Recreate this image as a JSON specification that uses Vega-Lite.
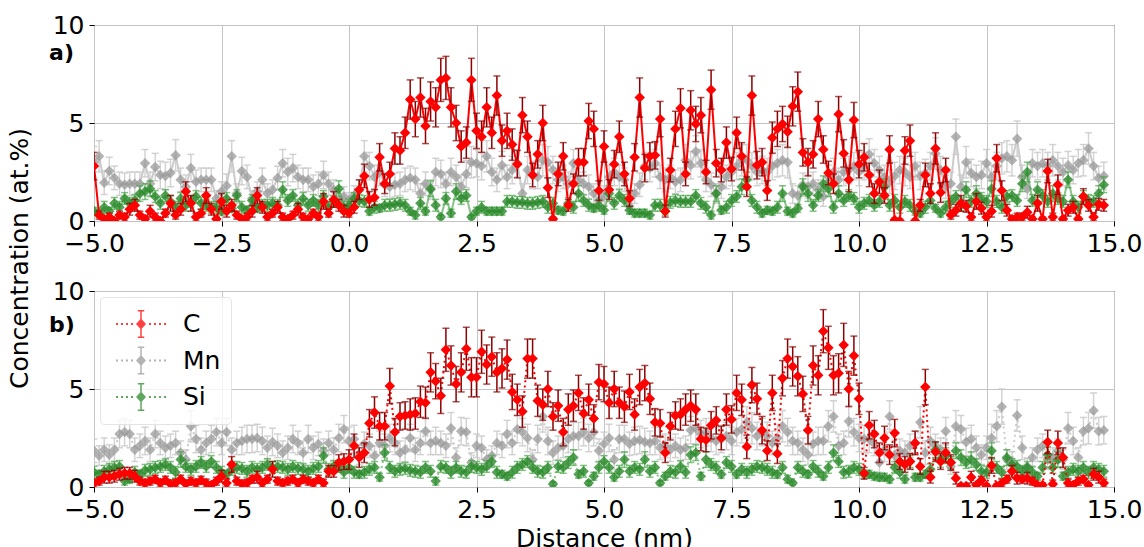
{
"$schema":"https://vega.github.io/schema/vega-lite/v6.json",
"padding":{"left":6,"top":12,"right":2,"bottom":0},
"background":"white",
"config":{
 "font":"DejaVu Sans",
 "view":{"stroke":"#000000","strokeWidth":1},
 "axis":{"labelFont":"DejaVu Sans","labelFontSize":25,"labelColor":"#000000","titleFont":"DejaVu Sans","titleFontSize":25,"titleFontWeight":"normal","titleColor":"#000000","tickColor":"#000000","tickSize":5,"tickWidth":1,"domain":false,"grid":true,"gridColor":"#c4c4c4","gridWidth":1,"labelPadding":5,"titlePadding":4,"labelFlush":false,"labelOverlap":false},
 "legend":{"orient":"top-left","offset":6,"labelFont":"DejaVu Sans","labelFontSize":25,"labelColor":"#000000","symbolType":"M-0.76,-0.04h0.08v0.08h-0.08zM-0.56,-0.04h0.08v0.08h-0.08zM-0.36,-0.04h0.08v0.08h-0.08zM-0.16,-0.04h0.08v0.08h-0.08zM0.56,-0.04h0.08v0.08h-0.08zM0.76,-0.04h0.08v0.08h-0.08zM0.96,-0.04h0.08v0.08h-0.08zM1.16,-0.04h0.08v0.08h-0.08zM0.24,-0.22L0.44,0L0.24,0.22L0.04,0zM0.21,-0.54h0.06v1.08h-0.06zM0.11,-0.56h0.26v0.06h-0.26zM0.11,0.5h0.26v0.06h-0.26z","symbolSize":2500,"symbolStrokeWidth":0,"clipHeight":34,"rowPadding":2.5,"padding":10,"labelOffset":23,"fillColor":"rgba(255,255,255,0.8)","strokeColor":"#e4e4e4","cornerRadius":4,"zindex":1}
},
"data":{"values":[
{"x":-5.0,"c1":2.8,"ec1":0.7,"m1":3.0,"em1":0.8,"s1":0.5,"es1":0.2,"c2":0.2,"ec2":0.2,"m2":1.85,"em2":0.6,"s2":0.75,"es2":0.3},
{"x":-4.9,"c1":0.3,"ec1":0.2,"m1":3.3,"em1":0.8,"s1":0.4,"es1":0.2,"c2":0.3,"ec2":0.2,"m2":1.6,"em2":0.5,"s2":0.65,"es2":0.2},
{"x":-4.8,"c1":0.1,"ec1":0.1,"m1":1.95,"em1":0.6,"s1":0.7,"es1":0.3,"c2":0.5,"ec2":0.3,"m2":1.9,"em2":0.6,"s2":0.8,"es2":0.3},
{"x":-4.7,"c1":0.2,"ec1":0.2,"m1":2.55,"em1":0.7,"s1":0.5,"es1":0.2,"c2":0.5,"ec2":0.3,"m2":1.65,"em2":0.5,"s2":0.9,"es2":0.3},
{"x":-4.6,"c1":0.0,"ec1":0.1,"m1":2.2,"em1":0.6,"s1":0.9,"es1":0.3,"c2":0.55,"ec2":0.3,"m2":1.9,"em2":0.6,"s2":1.0,"es2":0.3},
{"x":-4.5,"c1":0.3,"ec1":0.2,"m1":1.9,"em1":0.6,"s1":0.7,"es1":0.3,"c2":0.65,"ec2":0.3,"m2":2.7,"em2":0.7,"s2":1.05,"es2":0.3},
{"x":-4.4,"c1":0.2,"ec1":0.2,"m1":1.85,"em1":0.6,"s1":1.15,"es1":0.3,"c2":0.7,"ec2":0.3,"m2":2.8,"em2":0.7,"s2":0.3,"es2":0.2},
{"x":-4.3,"c1":0.6,"ec1":0.3,"m1":1.9,"em1":0.6,"s1":0.9,"es1":0.3,"c2":0.7,"ec2":0.3,"m2":2.7,"em2":0.7,"s2":0.4,"es2":0.2},
{"x":-4.2,"c1":0.8,"ec1":0.3,"m1":1.9,"em1":0.6,"s1":1.05,"es1":0.3,"c2":0.55,"ec2":0.3,"m2":1.9,"em2":0.6,"s2":0.75,"es2":0.3},
{"x":-4.1,"c1":0.3,"ec1":0.2,"m1":1.9,"em1":0.6,"s1":1.4,"es1":0.4,"c2":0.3,"ec2":0.2,"m2":2.1,"em2":0.6,"s2":0.65,"es2":0.2},
{"x":-4.0,"c1":0.1,"ec1":0.1,"m1":2.95,"em1":0.7,"s1":1.5,"es1":0.4,"c2":0.2,"ec2":0.2,"m2":2.35,"em2":0.7,"s2":0.85,"es2":0.3},
{"x":-3.9,"c1":0.5,"ec1":0.3,"m1":1.9,"em1":0.6,"s1":1.65,"es1":0.4,"c2":0.3,"ec2":0.2,"m2":1.9,"em2":0.6,"s2":0.9,"es2":0.3},
{"x":-3.8,"c1":0.2,"ec1":0.2,"m1":2.75,"em1":0.7,"s1":1.25,"es1":0.3,"c2":0.4,"ec2":0.2,"m2":2.7,"em2":0.7,"s2":1.0,"es2":0.3},
{"x":-3.7,"c1":0.0,"ec1":0.1,"m1":2.35,"em1":0.7,"s1":0.9,"es1":0.3,"c2":0.2,"ec2":0.2,"m2":2.25,"em2":0.6,"s2":1.05,"es2":0.3},
{"x":-3.6,"c1":0.4,"ec1":0.2,"m1":2.3,"em1":0.7,"s1":1.3,"es1":0.3,"c2":0.35,"ec2":0.2,"m2":2.0,"em2":0.6,"s2":1.15,"es2":0.3},
{"x":-3.5,"c1":0.9,"ec1":0.4,"m1":2.45,"em1":0.7,"s1":1.0,"es1":0.3,"c2":0.15,"ec2":0.2,"m2":2.1,"em2":0.6,"s2":1.0,"es2":0.3},
{"x":-3.4,"c1":0.3,"ec1":0.2,"m1":3.35,"em1":0.8,"s1":0.7,"es1":0.3,"c2":0.2,"ec2":0.2,"m2":2.25,"em2":0.6,"s2":0.75,"es2":0.3},
{"x":-3.3,"c1":0.6,"ec1":0.3,"m1":2.1,"em1":0.6,"s1":1.15,"es1":0.3,"c2":0.4,"ec2":0.2,"m2":1.75,"em2":0.6,"s2":1.4,"es2":0.4},
{"x":-3.2,"c1":1.5,"ec1":0.5,"m1":1.75,"em1":0.6,"s1":0.8,"es1":0.3,"c2":0.15,"ec2":0.2,"m2":1.4,"em2":0.5,"s2":1.05,"es2":0.3},
{"x":-3.1,"c1":0.9,"ec1":0.4,"m1":2.7,"em1":0.7,"s1":1.0,"es1":0.3,"c2":0.3,"ec2":0.2,"m2":3.1,"em2":0.8,"s2":0.9,"es2":0.3},
{"x":-3.0,"c1":0.2,"ec1":0.2,"m1":2.0,"em1":0.6,"s1":1.25,"es1":0.3,"c2":0.2,"ec2":0.2,"m2":2.45,"em2":0.7,"s2":1.05,"es2":0.3},
{"x":-2.9,"c1":0.4,"ec1":0.2,"m1":2.1,"em1":0.6,"s1":0.9,"es1":0.3,"c2":0.35,"ec2":0.2,"m2":1.9,"em2":0.6,"s2":1.25,"es2":0.3},
{"x":-2.8,"c1":1.3,"ec1":0.4,"m1":2.1,"em1":0.6,"s1":0.8,"es1":0.3,"c2":0.2,"ec2":0.2,"m2":2.25,"em2":0.6,"s2":1.05,"es2":0.3},
{"x":-2.7,"c1":0.6,"ec1":0.3,"m1":2.1,"em1":0.6,"s1":0.7,"es1":0.3,"c2":0.1,"ec2":0.1,"m2":2.45,"em2":0.7,"s2":1.3,"es2":0.3},
{"x":-2.6,"c1":0.1,"ec1":0.1,"m1":1.15,"em1":0.4,"s1":0.7,"es1":0.3,"c2":0.3,"ec2":0.2,"m2":2.8,"em2":0.7,"s2":1.0,"es2":0.3},
{"x":-2.5,"c1":1.0,"ec1":0.4,"m1":1.5,"em1":0.5,"s1":0.5,"es1":0.2,"c2":0.55,"ec2":0.3,"m2":2.25,"em2":0.6,"s2":0.75,"es2":0.3},
{"x":-2.4,"c1":0.5,"ec1":0.3,"m1":1.8,"em1":0.6,"s1":1.15,"es1":0.3,"c2":0.2,"ec2":0.2,"m2":2.8,"em2":0.7,"s2":0.65,"es2":0.2},
{"x":-2.3,"c1":0.8,"ec1":0.3,"m1":3.3,"em1":0.8,"s1":0.65,"es1":0.2,"c2":1.15,"ec2":0.4,"m2":1.9,"em2":0.6,"s2":0.9,"es2":0.3},
{"x":-2.2,"c1":0.3,"ec1":0.2,"m1":1.4,"em1":0.5,"s1":1.3,"es1":0.3,"c2":0.3,"ec2":0.2,"m2":2.25,"em2":0.6,"s2":1.0,"es2":0.3},
{"x":-2.1,"c1":0.1,"ec1":0.1,"m1":2.55,"em1":0.7,"s1":0.7,"es1":0.3,"c2":0.15,"ec2":0.2,"m2":2.35,"em2":0.7,"s2":0.95,"es2":0.3},
{"x":-2.0,"c1":0.2,"ec1":0.2,"m1":2.25,"em1":0.6,"s1":0.55,"es1":0.2,"c2":0.2,"ec2":0.2,"m2":2.45,"em2":0.7,"s2":0.8,"es2":0.3},
{"x":-1.9,"c1":0.5,"ec1":0.3,"m1":1.15,"em1":0.4,"s1":1.05,"es1":0.3,"c2":0.4,"ec2":0.2,"m2":2.45,"em2":0.7,"s2":1.0,"es2":0.3},
{"x":-1.8,"c1":1.3,"ec1":0.4,"m1":1.5,"em1":0.5,"s1":0.65,"es1":0.2,"c2":0.5,"ec2":0.3,"m2":2.5,"em2":0.7,"s2":0.9,"es2":0.3},
{"x":-1.7,"c1":0.7,"ec1":0.3,"m1":2.1,"em1":0.6,"s1":0.8,"es1":0.3,"c2":0.2,"ec2":0.2,"m2":2.35,"em2":0.7,"s2":1.0,"es2":0.3},
{"x":-1.6,"c1":0.2,"ec1":0.2,"m1":1.4,"em1":0.5,"s1":0.8,"es1":0.3,"c2":0.4,"ec2":0.2,"m2":2.0,"em2":0.6,"s2":1.15,"es2":0.3},
{"x":-1.5,"c1":0.4,"ec1":0.2,"m1":1.6,"em1":0.5,"s1":0.9,"es1":0.3,"c2":0.9,"ec2":0.4,"m2":2.3,"em2":0.7,"s2":1.0,"es2":0.3},
{"x":-1.4,"c1":0.7,"ec1":0.3,"m1":2.2,"em1":0.6,"s1":0.8,"es1":0.3,"c2":0.3,"ec2":0.2,"m2":2.1,"em2":0.6,"s2":1.05,"es2":0.3},
{"x":-1.3,"c1":0.2,"ec1":0.2,"m1":2.95,"em1":0.7,"s1":1.6,"es1":0.4,"c2":0.2,"ec2":0.2,"m2":1.75,"em2":0.6,"s2":1.0,"es2":0.3},
{"x":-1.2,"c1":0.1,"ec1":0.1,"m1":2.5,"em1":0.7,"s1":1.05,"es1":0.3,"c2":0.3,"ec2":0.2,"m2":2.0,"em2":0.6,"s2":0.9,"es2":0.3},
{"x":-1.1,"c1":0.3,"ec1":0.2,"m1":2.7,"em1":0.7,"s1":1.3,"es1":0.3,"c2":0.4,"ec2":0.2,"m2":2.45,"em2":0.7,"s2":1.05,"es2":0.3},
{"x":-1.0,"c1":0.6,"ec1":0.3,"m1":2.25,"em1":0.6,"s1":0.8,"es1":0.3,"c2":0.2,"ec2":0.2,"m2":2.25,"em2":0.6,"s2":0.95,"es2":0.3},
{"x":-0.9,"c1":0.2,"ec1":0.2,"m1":2.1,"em1":0.6,"s1":1.15,"es1":0.3,"c2":0.4,"ec2":0.2,"m2":1.75,"em2":0.6,"s2":0.9,"es2":0.3},
{"x":-0.8,"c1":0.1,"ec1":0.1,"m1":2.1,"em1":0.6,"s1":0.8,"es1":0.3,"c2":0.3,"ec2":0.2,"m2":2.45,"em2":0.7,"s2":0.8,"es2":0.3},
{"x":-0.7,"c1":0.4,"ec1":0.2,"m1":1.75,"em1":0.6,"s1":1.05,"es1":0.3,"c2":0.2,"ec2":0.2,"m2":2.0,"em2":0.6,"s2":0.95,"es2":0.3},
{"x":-0.6,"c1":0.2,"ec1":0.2,"m1":1.9,"em1":0.6,"s1":0.8,"es1":0.3,"c2":0.4,"ec2":0.2,"m2":2.2,"em2":0.6,"s2":1.05,"es2":0.3},
{"x":-0.5,"c1":1.0,"ec1":0.4,"m1":2.35,"em1":0.7,"s1":1.25,"es1":0.3,"c2":0.2,"ec2":0.2,"m2":1.85,"em2":0.6,"s2":1.6,"es2":0.4},
{"x":-0.4,"c1":0.4,"ec1":0.2,"m1":1.9,"em1":0.6,"s1":0.7,"es1":0.3,"c2":0.8,"ec2":0.3,"m2":2.25,"em2":0.6,"s2":0.9,"es2":0.3},
{"x":-0.3,"c1":1.1,"ec1":0.4,"m1":1.6,"em1":0.5,"s1":1.0,"es1":0.3,"c2":0.8,"ec2":0.3,"m2":1.9,"em2":0.6,"s2":1.05,"es2":0.3},
{"x":-0.2,"c1":0.8,"ec1":0.3,"m1":1.0,"em1":0.4,"s1":1.65,"es1":0.4,"c2":1.25,"ec2":0.4,"m2":2.5,"em2":0.7,"s2":1.05,"es2":0.3},
{"x":-0.1,"c1":0.5,"ec1":0.3,"m1":1.25,"em1":0.5,"s1":0.7,"es1":0.3,"c2":1.3,"ec2":0.4,"m2":2.95,"em2":0.7,"s2":0.75,"es2":0.3},
{"x":0.0,"c1":0.4,"ec1":0.2,"m1":1.05,"em1":0.4,"s1":0.8,"es1":0.3,"c2":1.4,"ec2":0.5,"m2":2.35,"em2":0.7,"s2":1.0,"es2":0.3},
{"x":0.1,"c1":0.7,"ec1":0.3,"m1":1.3,"em1":0.5,"s1":1.15,"es1":0.3,"c2":2.1,"ec2":0.6,"m2":2.45,"em2":0.7,"s2":0.75,"es2":0.3},
{"x":0.2,"c1":1.6,"ec1":0.5,"m1":1.6,"em1":0.5,"s1":1.05,"es1":0.3,"c2":1.5,"ec2":0.5,"m2":1.65,"em2":0.5,"s2":0.65,"es2":0.2},
{"x":0.3,"c1":2.3,"ec1":0.6,"m1":3.3,"em1":0.8,"s1":1.0,"es1":0.3,"c2":1.75,"ec2":0.5,"m2":2.2,"em2":0.6,"s2":0.75,"es2":0.3},
{"x":0.4,"c1":1.1,"ec1":0.4,"m1":2.8,"em1":0.7,"s1":0.5,"es1":0.2,"c2":3.25,"ec2":0.7,"m2":2.1,"em2":0.6,"s2":0.9,"es2":0.3},
{"x":0.5,"c1":1.2,"ec1":0.4,"m1":2.25,"em1":0.6,"s1":0.7,"es1":0.3,"c2":3.8,"ec2":0.8,"m2":1.6,"em2":0.5,"s2":1.0,"es2":0.3},
{"x":0.6,"c1":3.25,"ec1":0.7,"m1":2.5,"em1":0.7,"s1":0.65,"es1":0.2,"c2":3.1,"ec2":0.7,"m2":2.25,"em2":0.6,"s2":0.5,"es2":0.2},
{"x":0.7,"c1":1.9,"ec1":0.5,"m1":1.85,"em1":0.6,"s1":0.8,"es1":0.3,"c2":3.1,"ec2":0.7,"m2":2.1,"em2":0.6,"s2":1.75,"es2":0.4},
{"x":0.8,"c1":2.4,"ec1":0.6,"m1":1.75,"em1":0.6,"s1":0.8,"es1":0.3,"c2":5.15,"ec2":0.9,"m2":2.5,"em2":0.7,"s2":1.0,"es2":0.3},
{"x":0.9,"c1":3.7,"ec1":0.8,"m1":1.85,"em1":0.6,"s1":0.85,"es1":0.3,"c2":2.8,"ec2":0.7,"m2":2.25,"em2":0.6,"s2":0.8,"es2":0.3},
{"x":1.0,"c1":3.6,"ec1":0.7,"m1":1.9,"em1":0.6,"s1":0.9,"es1":0.3,"c2":3.6,"ec2":0.7,"m2":1.75,"em2":0.6,"s2":0.9,"es2":0.3},
{"x":1.1,"c1":4.5,"ec1":0.8,"m1":2.1,"em1":0.6,"s1":0.8,"es1":0.3,"c2":3.65,"ec2":0.7,"m2":1.9,"em2":0.6,"s2":0.95,"es2":0.3},
{"x":1.2,"c1":6.2,"ec1":1.0,"m1":2.2,"em1":0.6,"s1":0.5,"es1":0.2,"c2":3.7,"ec2":0.8,"m2":2.5,"em2":0.7,"s2":0.85,"es2":0.3},
{"x":1.3,"c1":5.2,"ec1":0.9,"m1":2.1,"em1":0.6,"s1":0.3,"es1":0.2,"c2":3.75,"ec2":0.8,"m2":1.9,"em2":0.6,"s2":0.8,"es2":0.3},
{"x":1.4,"c1":6.3,"ec1":1.0,"m1":1.4,"em1":0.5,"s1":0.9,"es1":0.3,"c2":4.35,"ec2":0.8,"m2":2.25,"em2":0.6,"s2":0.75,"es2":0.3},
{"x":1.5,"c1":4.85,"ec1":0.9,"m1":1.9,"em1":0.6,"s1":0.5,"es1":0.2,"c2":4.3,"ec2":0.8,"m2":2.85,"em2":0.7,"s2":1.0,"es2":0.3},
{"x":1.6,"c1":6.1,"ec1":1.0,"m1":1.6,"em1":0.5,"s1":1.65,"es1":0.4,"c2":5.85,"ec2":1.0,"m2":2.25,"em2":0.6,"s2":0.8,"es2":0.3},
{"x":1.7,"c1":5.8,"ec1":1.0,"m1":2.5,"em1":0.7,"s1":0.8,"es1":0.3,"c2":5.4,"ec2":0.9,"m2":2.35,"em2":0.7,"s2":0.3,"es2":0.2},
{"x":1.8,"c1":7.2,"ec1":1.1,"m1":2.4,"em1":0.7,"s1":0.2,"es1":0.1,"c2":4.65,"ec2":0.9,"m2":2.25,"em2":0.6,"s2":1.05,"es2":0.3},
{"x":1.9,"c1":7.3,"ec1":1.1,"m1":1.9,"em1":0.6,"s1":1.15,"es1":0.3,"c2":7.0,"ec2":1.1,"m2":2.1,"em2":0.6,"s2":1.0,"es2":0.3},
{"x":2.0,"c1":5.8,"ec1":1.0,"m1":2.5,"em1":0.7,"s1":0.4,"es1":0.2,"c2":6.2,"ec2":1.0,"m2":3.0,"em2":0.8,"s2":0.75,"es2":0.3},
{"x":2.1,"c1":5.0,"ec1":0.9,"m1":2.25,"em1":0.6,"s1":1.5,"es1":0.4,"c2":5.25,"ec2":0.9,"m2":1.5,"em2":0.5,"s2":1.0,"es2":0.3},
{"x":2.2,"c1":3.8,"ec1":0.8,"m1":1.75,"em1":0.6,"s1":1.15,"es1":0.3,"c2":5.85,"ec2":1.0,"m2":2.85,"em2":0.7,"s2":0.8,"es2":0.3},
{"x":2.3,"c1":4.0,"ec1":0.8,"m1":2.4,"em1":0.7,"s1":1.3,"es1":0.3,"c2":7.05,"ec2":1.1,"m2":2.8,"em2":0.7,"s2":0.75,"es2":0.3},
{"x":2.4,"c1":7.2,"ec1":1.1,"m1":3.0,"em1":0.8,"s1":0.2,"es1":0.1,"c2":5.6,"ec2":1.0,"m2":1.25,"em2":0.5,"s2":1.05,"es2":0.3},
{"x":2.5,"c1":4.6,"ec1":0.9,"m1":2.95,"em1":0.7,"s1":0.5,"es1":0.2,"c2":5.6,"ec2":1.0,"m2":2.1,"em2":0.6,"s2":1.0,"es2":0.3},
{"x":2.6,"c1":4.3,"ec1":0.8,"m1":2.8,"em1":0.7,"s1":0.7,"es1":0.3,"c2":6.9,"ec2":1.1,"m2":2.0,"em2":0.6,"s2":0.9,"es2":0.3},
{"x":2.7,"c1":5.8,"ec1":1.0,"m1":3.3,"em1":0.8,"s1":0.5,"es1":0.2,"c2":6.25,"ec2":1.0,"m2":1.4,"em2":0.5,"s2":1.05,"es2":0.3},
{"x":2.8,"c1":4.5,"ec1":0.8,"m1":2.5,"em1":0.7,"s1":0.5,"es1":0.2,"c2":6.65,"ec2":1.0,"m2":1.6,"em2":0.5,"s2":1.3,"es2":0.3},
{"x":2.9,"c1":6.4,"ec1":1.0,"m1":2.1,"em1":0.6,"s1":0.5,"es1":0.2,"c2":5.85,"ec2":1.0,"m2":2.25,"em2":0.6,"s2":0.75,"es2":0.3},
{"x":3.0,"c1":4.1,"ec1":0.8,"m1":2.85,"em1":0.7,"s1":0.5,"es1":0.2,"c2":6.05,"ec2":1.0,"m2":2.1,"em2":0.6,"s2":0.65,"es2":0.2},
{"x":3.1,"c1":4.6,"ec1":0.9,"m1":2.25,"em1":0.6,"s1":1.0,"es1":0.3,"c2":6.5,"ec2":1.0,"m2":2.7,"em2":0.7,"s2":0.55,"es2":0.2},
{"x":3.2,"c1":3.9,"ec1":0.8,"m1":2.6,"em1":0.7,"s1":1.0,"es1":0.3,"c2":4.85,"ec2":0.9,"m2":2.25,"em2":0.6,"s2":0.75,"es2":0.3},
{"x":3.3,"c1":2.9,"ec1":0.7,"m1":2.95,"em1":0.7,"s1":0.95,"es1":0.3,"c2":4.45,"ec2":0.8,"m2":2.95,"em2":0.7,"s2":1.0,"es2":0.3},
{"x":3.4,"c1":5.4,"ec1":0.9,"m1":1.4,"em1":0.5,"s1":0.95,"es1":0.3,"c2":3.85,"ec2":0.8,"m2":2.8,"em2":0.7,"s2":1.15,"es2":0.3},
{"x":3.5,"c1":4.3,"ec1":0.8,"m1":2.6,"em1":0.7,"s1":0.9,"es1":0.3,"c2":6.55,"ec2":1.0,"m2":2.5,"em2":0.7,"s2":1.3,"es2":0.3},
{"x":3.6,"c1":2.35,"ec1":0.6,"m1":2.35,"em1":0.7,"s1":0.9,"es1":0.3,"c2":6.55,"ec2":1.0,"m2":1.4,"em2":0.5,"s2":1.0,"es2":0.3},
{"x":3.7,"c1":3.4,"ec1":0.7,"m1":2.25,"em1":0.6,"s1":0.95,"es1":0.3,"c2":4.4,"ec2":0.8,"m2":2.45,"em2":0.7,"s2":0.8,"es2":0.3},
{"x":3.8,"c1":5.0,"ec1":0.9,"m1":3.1,"em1":0.8,"s1":1.0,"es1":0.3,"c2":4.2,"ec2":0.8,"m2":3.6,"em2":0.8,"s2":0.75,"es2":0.3},
{"x":3.9,"c1":1.7,"ec1":0.5,"m1":3.0,"em1":0.8,"s1":0.7,"es1":0.3,"c2":5.0,"ec2":0.9,"m2":2.35,"em2":0.7,"s2":1.0,"es2":0.3},
{"x":4.0,"c1":0.1,"ec1":0.1,"m1":2.6,"em1":0.7,"s1":0.9,"es1":0.3,"c2":3.6,"ec2":0.7,"m2":1.75,"em2":0.6,"s2":0.15,"es2":0.1},
{"x":4.1,"c1":2.4,"ec1":0.6,"m1":2.1,"em1":0.6,"s1":0.55,"es1":0.2,"c2":4.15,"ec2":0.8,"m2":2.0,"em2":0.6,"s2":1.05,"es2":0.3},
{"x":4.2,"c1":3.3,"ec1":0.7,"m1":2.25,"em1":0.6,"s1":0.5,"es1":0.2,"c2":2.8,"ec2":0.7,"m2":2.1,"em2":0.6,"s2":1.0,"es2":0.3},
{"x":4.3,"c1":0.8,"ec1":0.3,"m1":1.9,"em1":0.6,"s1":0.9,"es1":0.3,"c2":3.95,"ec2":0.8,"m2":2.45,"em2":0.7,"s2":1.25,"es2":0.3},
{"x":4.4,"c1":1.9,"ec1":0.5,"m1":2.95,"em1":0.7,"s1":0.7,"es1":0.3,"c2":4.15,"ec2":0.8,"m2":2.6,"em2":0.7,"s2":1.5,"es2":0.4},
{"x":4.5,"c1":3.0,"ec1":0.7,"m1":2.1,"em1":0.6,"s1":1.4,"es1":0.4,"c2":4.8,"ec2":0.9,"m2":2.6,"em2":0.7,"s2":0.65,"es2":0.2},
{"x":4.6,"c1":3.0,"ec1":0.7,"m1":1.9,"em1":0.6,"s1":1.05,"es1":0.3,"c2":3.75,"ec2":0.8,"m2":2.8,"em2":0.7,"s2":0.8,"es2":0.3},
{"x":4.7,"c1":5.1,"ec1":0.9,"m1":1.75,"em1":0.6,"s1":0.8,"es1":0.3,"c2":4.45,"ec2":0.8,"m2":2.5,"em2":0.7,"s2":0.2,"es2":0.1},
{"x":4.8,"c1":4.7,"ec1":0.9,"m1":1.4,"em1":0.5,"s1":0.65,"es1":0.2,"c2":3.5,"ec2":0.7,"m2":2.8,"em2":0.7,"s2":0.55,"es2":0.2},
{"x":4.9,"c1":1.55,"ec1":0.5,"m1":1.05,"em1":0.4,"s1":0.8,"es1":0.3,"c2":5.35,"ec2":0.9,"m2":1.85,"em2":0.6,"s2":1.0,"es2":0.3},
{"x":5.0,"c1":3.8,"ec1":0.8,"m1":1.3,"em1":0.5,"s1":0.55,"es1":0.2,"c2":5.25,"ec2":0.9,"m2":2.2,"em2":0.6,"s2":1.3,"es2":0.3},
{"x":5.1,"c1":1.6,"ec1":0.5,"m1":2.25,"em1":0.6,"s1":1.4,"es1":0.4,"c2":4.3,"ec2":0.8,"m2":2.5,"em2":0.7,"s2":1.0,"es2":0.3},
{"x":5.2,"c1":2.9,"ec1":0.7,"m1":2.5,"em1":0.7,"s1":0.9,"es1":0.3,"c2":5.0,"ec2":0.9,"m2":1.4,"em2":0.5,"s2":0.5,"es2":0.2},
{"x":5.3,"c1":4.3,"ec1":0.8,"m1":2.25,"em1":0.6,"s1":1.3,"es1":0.3,"c2":4.3,"ec2":0.8,"m2":2.45,"em2":0.7,"s2":0.8,"es2":0.3},
{"x":5.4,"c1":2.4,"ec1":0.6,"m1":2.1,"em1":0.6,"s1":1.05,"es1":0.3,"c2":4.1,"ec2":0.8,"m2":2.45,"em2":0.7,"s2":1.4,"es2":0.4},
{"x":5.5,"c1":1.15,"ec1":0.4,"m1":0.75,"em1":0.4,"s1":0.55,"es1":0.2,"c2":4.85,"ec2":0.9,"m2":2.2,"em2":0.6,"s2":0.8,"es2":0.3},
{"x":5.6,"c1":3.25,"ec1":0.7,"m1":1.4,"em1":0.5,"s1":0.4,"es1":0.2,"c2":3.7,"ec2":0.8,"m2":2.35,"em2":0.7,"s2":1.0,"es2":0.3},
{"x":5.7,"c1":6.3,"ec1":1.0,"m1":1.85,"em1":0.6,"s1":0.4,"es1":0.2,"c2":5.1,"ec2":0.9,"m2":2.4,"em2":0.7,"s2":0.9,"es2":0.3},
{"x":5.8,"c1":2.7,"ec1":0.7,"m1":2.8,"em1":0.7,"s1":0.4,"es1":0.2,"c2":5.3,"ec2":0.9,"m2":2.3,"em2":0.7,"s2":1.4,"es2":0.4},
{"x":5.9,"c1":3.3,"ec1":0.7,"m1":2.7,"em1":0.7,"s1":0.3,"es1":0.2,"c2":4.5,"ec2":0.8,"m2":2.25,"em2":0.6,"s2":0.8,"es2":0.3},
{"x":6.0,"c1":3.35,"ec1":0.7,"m1":2.95,"em1":0.7,"s1":0.8,"es1":0.3,"c2":3.3,"ec2":0.7,"m2":2.35,"em2":0.7,"s2":1.0,"es2":0.3},
{"x":6.1,"c1":5.2,"ec1":0.9,"m1":2.25,"em1":0.6,"s1":0.8,"es1":0.3,"c2":3.25,"ec2":0.7,"m2":2.0,"em2":0.6,"s2":0.2,"es2":0.1},
{"x":6.2,"c1":0.5,"ec1":0.3,"m1":2.1,"em1":0.6,"s1":0.5,"es1":0.2,"c2":1.75,"ec2":0.5,"m2":2.1,"em2":0.6,"s2":0.55,"es2":0.2},
{"x":6.3,"c1":2.6,"ec1":0.6,"m1":2.25,"em1":0.6,"s1":0.95,"es1":0.3,"c2":3.1,"ec2":0.7,"m2":1.9,"em2":0.6,"s2":0.8,"es2":0.3},
{"x":6.4,"c1":4.7,"ec1":0.9,"m1":2.0,"em1":0.6,"s1":1.05,"es1":0.3,"c2":3.65,"ec2":0.7,"m2":2.1,"em2":0.6,"s2":0.75,"es2":0.3},
{"x":6.5,"c1":5.75,"ec1":1.0,"m1":2.1,"em1":0.6,"s1":1.0,"es1":0.3,"c2":3.7,"ec2":0.8,"m2":1.9,"em2":0.6,"s2":1.05,"es2":0.3},
{"x":6.6,"c1":2.4,"ec1":0.6,"m1":3.1,"em1":0.8,"s1":1.0,"es1":0.3,"c2":3.95,"ec2":0.8,"m2":2.0,"em2":0.6,"s2":0.75,"es2":0.3},
{"x":6.7,"c1":5.65,"ec1":1.0,"m1":2.85,"em1":0.7,"s1":1.0,"es1":0.3,"c2":4.15,"ec2":0.8,"m2":2.9,"em2":0.7,"s2":1.65,"es2":0.4},
{"x":6.8,"c1":4.95,"ec1":0.9,"m1":3.55,"em1":0.8,"s1":1.3,"es1":0.3,"c2":3.95,"ec2":0.8,"m2":3.0,"em2":0.8,"s2":1.75,"es2":0.4},
{"x":6.9,"c1":5.4,"ec1":0.9,"m1":2.95,"em1":0.7,"s1":0.9,"es1":0.3,"c2":2.45,"ec2":0.6,"m2":2.7,"em2":0.7,"s2":0.55,"es2":0.2},
{"x":7.0,"c1":2.5,"ec1":0.6,"m1":2.1,"em1":0.6,"s1":0.7,"es1":0.3,"c2":2.4,"ec2":0.6,"m2":2.8,"em2":0.7,"s2":1.4,"es2":0.4},
{"x":7.1,"c1":6.7,"ec1":1.0,"m1":1.85,"em1":0.6,"s1":0.3,"es1":0.2,"c2":3.15,"ec2":0.7,"m2":2.5,"em2":0.7,"s2":1.15,"es2":0.3},
{"x":7.2,"c1":2.95,"ec1":0.7,"m1":1.4,"em1":0.5,"s1":1.4,"es1":0.4,"c2":3.4,"ec2":0.7,"m2":2.35,"em2":0.7,"s2":1.0,"es2":0.3},
{"x":7.3,"c1":2.6,"ec1":0.6,"m1":1.75,"em1":0.6,"s1":0.55,"es1":0.2,"c2":2.5,"ec2":0.6,"m2":2.45,"em2":0.7,"s2":0.65,"es2":0.2},
{"x":7.4,"c1":4.0,"ec1":0.8,"m1":2.25,"em1":0.6,"s1":0.7,"es1":0.3,"c2":3.95,"ec2":0.8,"m2":2.6,"em2":0.7,"s2":1.25,"es2":0.3},
{"x":7.5,"c1":2.65,"ec1":0.6,"m1":2.5,"em1":0.7,"s1":1.05,"es1":0.3,"c2":3.45,"ec2":0.7,"m2":2.35,"em2":0.7,"s2":1.05,"es2":0.3},
{"x":7.6,"c1":4.5,"ec1":0.8,"m1":2.8,"em1":0.7,"s1":1.25,"es1":0.3,"c2":4.8,"ec2":0.9,"m2":2.8,"em2":0.7,"s2":0.65,"es2":0.2},
{"x":7.7,"c1":3.3,"ec1":0.7,"m1":3.1,"em1":0.8,"s1":1.75,"es1":0.4,"c2":4.45,"ec2":0.8,"m2":2.95,"em2":0.7,"s2":0.9,"es2":0.3},
{"x":7.8,"c1":1.75,"ec1":0.5,"m1":3.1,"em1":0.8,"s1":2.1,"es1":0.4,"c2":2.05,"ec2":0.6,"m2":3.3,"em2":0.8,"s2":0.75,"es2":0.3},
{"x":7.9,"c1":6.4,"ec1":1.0,"m1":2.8,"em1":0.7,"s1":1.05,"es1":0.3,"c2":5.2,"ec2":0.9,"m2":3.0,"em2":0.8,"s2":0.9,"es2":0.3},
{"x":8.0,"c1":2.85,"ec1":0.7,"m1":2.5,"em1":0.7,"s1":0.7,"es1":0.3,"c2":4.5,"ec2":0.8,"m2":2.6,"em2":0.7,"s2":1.05,"es2":0.3},
{"x":8.1,"c1":3.0,"ec1":0.7,"m1":2.6,"em1":0.7,"s1":0.4,"es1":0.2,"c2":2.9,"ec2":0.7,"m2":2.8,"em2":0.7,"s2":1.0,"es2":0.3},
{"x":8.2,"c1":1.55,"ec1":0.5,"m1":2.5,"em1":0.7,"s1":0.55,"es1":0.2,"c2":1.85,"ec2":0.5,"m2":2.6,"em2":0.7,"s2":0.9,"es2":0.3},
{"x":8.3,"c1":4.25,"ec1":0.8,"m1":2.8,"em1":0.7,"s1":0.5,"es1":0.2,"c2":4.8,"ec2":0.9,"m2":2.25,"em2":0.6,"s2":0.75,"es2":0.3},
{"x":8.4,"c1":4.7,"ec1":0.9,"m1":2.95,"em1":0.7,"s1":0.7,"es1":0.3,"c2":1.7,"ec2":0.5,"m2":2.5,"em2":0.7,"s2":0.65,"es2":0.2},
{"x":8.5,"c1":4.95,"ec1":0.9,"m1":3.1,"em1":0.8,"s1":1.4,"es1":0.4,"c2":5.55,"ec2":0.9,"m2":3.1,"em2":0.8,"s2":1.0,"es2":0.3},
{"x":8.6,"c1":4.55,"ec1":0.8,"m1":3.0,"em1":0.8,"s1":0.5,"es1":0.2,"c2":6.55,"ec2":1.0,"m2":2.8,"em2":0.7,"s2":0.4,"es2":0.2},
{"x":8.7,"c1":5.85,"ec1":1.0,"m1":1.4,"em1":0.5,"s1":0.4,"es1":0.2,"c2":6.15,"ec2":1.0,"m2":2.35,"em2":0.7,"s2":0.2,"es2":0.1},
{"x":8.8,"c1":6.6,"ec1":1.0,"m1":1.3,"em1":0.5,"s1":0.65,"es1":0.2,"c2":5.65,"ec2":1.0,"m2":2.25,"em2":0.6,"s2":1.0,"es2":0.3},
{"x":8.9,"c1":3.5,"ec1":0.7,"m1":1.85,"em1":0.6,"s1":1.75,"es1":0.4,"c2":4.75,"ec2":0.9,"m2":1.9,"em2":0.6,"s2":0.8,"es2":0.3},
{"x":9.0,"c1":3.0,"ec1":0.7,"m1":1.75,"em1":0.6,"s1":1.4,"es1":0.4,"c2":2.9,"ec2":0.7,"m2":1.65,"em2":0.5,"s2":0.65,"es2":0.2},
{"x":9.1,"c1":3.4,"ec1":0.7,"m1":1.9,"em1":0.6,"s1":0.8,"es1":0.3,"c2":6.2,"ec2":1.0,"m2":2.2,"em2":0.6,"s2":1.05,"es2":0.3},
{"x":9.2,"c1":5.2,"ec1":0.9,"m1":1.6,"em1":0.5,"s1":1.3,"es1":0.3,"c2":5.7,"ec2":1.0,"m2":2.35,"em2":0.7,"s2":0.8,"es2":0.3},
{"x":9.3,"c1":3.65,"ec1":0.7,"m1":1.25,"em1":0.5,"s1":1.9,"es1":0.4,"c2":7.95,"ec2":1.1,"m2":2.35,"em2":0.7,"s2":0.55,"es2":0.2},
{"x":9.4,"c1":2.45,"ec1":0.6,"m1":2.25,"em1":0.6,"s1":1.65,"es1":0.4,"c2":7.1,"ec2":1.1,"m2":3.1,"em2":0.8,"s2":1.0,"es2":0.3},
{"x":9.5,"c1":1.9,"ec1":0.5,"m1":2.5,"em1":0.7,"s1":0.7,"es1":0.3,"c2":5.7,"ec2":1.0,"m2":3.6,"em2":0.8,"s2":1.75,"es2":0.4},
{"x":9.6,"c1":5.45,"ec1":0.9,"m1":2.1,"em1":0.6,"s1":1.4,"es1":0.4,"c2":5.8,"ec2":1.0,"m2":2.1,"em2":0.6,"s2":1.3,"es2":0.3},
{"x":9.7,"c1":3.45,"ec1":0.7,"m1":2.5,"em1":0.7,"s1":1.05,"es1":0.3,"c2":7.25,"ec2":1.1,"m2":2.25,"em2":0.6,"s2":0.75,"es2":0.3},
{"x":9.8,"c1":2.1,"ec1":0.6,"m1":2.6,"em1":0.7,"s1":1.3,"es1":0.3,"c2":5.0,"ec2":0.9,"m2":3.35,"em2":0.8,"s2":0.8,"es2":0.3},
{"x":9.9,"c1":5.15,"ec1":0.9,"m1":2.8,"em1":0.7,"s1":1.15,"es1":0.3,"c2":6.7,"ec2":1.0,"m2":2.8,"em2":0.7,"s2":1.0,"es2":0.3},
{"x":10.0,"c1":2.9,"ec1":0.7,"m1":2.5,"em1":0.7,"s1":0.7,"es1":0.3,"c2":4.5,"ec2":0.8,"m2":2.5,"em2":0.7,"s2":0.9,"es2":0.3},
{"x":10.1,"c1":3.25,"ec1":0.7,"m1":2.8,"em1":0.7,"s1":0.9,"es1":0.3,"c2":0.7,"ec2":0.3,"m2":2.45,"em2":0.7,"s2":0.65,"es2":0.2},
{"x":10.2,"c1":2.35,"ec1":0.6,"m1":3.4,"em1":0.8,"s1":1.05,"es1":0.3,"c2":3.15,"ec2":0.7,"m2":2.45,"em2":0.7,"s2":0.65,"es2":0.2},
{"x":10.3,"c1":1.4,"ec1":0.5,"m1":2.95,"em1":0.7,"s1":0.8,"es1":0.3,"c2":2.7,"ec2":0.7,"m2":2.2,"em2":0.6,"s2":0.55,"es2":0.2},
{"x":10.4,"c1":2.0,"ec1":0.6,"m1":2.6,"em1":0.7,"s1":1.0,"es1":0.3,"c2":1.75,"ec2":0.5,"m2":1.25,"em2":0.5,"s2":0.5,"es2":0.2},
{"x":10.5,"c1":1.3,"ec1":0.4,"m1":2.25,"em1":0.6,"s1":1.75,"es1":0.4,"c2":2.5,"ec2":0.6,"m2":1.9,"em2":0.6,"s2":0.5,"es2":0.2},
{"x":10.6,"c1":3.65,"ec1":0.7,"m1":2.0,"em1":0.6,"s1":0.8,"es1":0.3,"c2":1.65,"ec2":0.5,"m2":3.6,"em2":0.8,"s2":0.4,"es2":0.2},
{"x":10.7,"c1":0.05,"ec1":0.1,"m1":2.3,"em1":0.7,"s1":1.05,"es1":0.3,"c2":2.75,"ec2":0.7,"m2":1.6,"em2":0.5,"s2":1.0,"es2":0.3},
{"x":10.8,"c1":0.0,"ec1":0.1,"m1":2.6,"em1":0.7,"s1":0.7,"es1":0.3,"c2":1.3,"ec2":0.4,"m2":1.85,"em2":0.6,"s2":0.75,"es2":0.3},
{"x":10.9,"c1":3.6,"ec1":0.7,"m1":2.5,"em1":0.7,"s1":1.0,"es1":0.3,"c2":1.15,"ec2":0.4,"m2":1.75,"em2":0.6,"s2":0.4,"es2":0.2},
{"x":11.0,"c1":4.1,"ec1":0.8,"m1":2.25,"em1":0.6,"s1":0.8,"es1":0.3,"c2":1.3,"ec2":0.4,"m2":2.1,"em2":0.6,"s2":1.3,"es2":0.3},
{"x":11.1,"c1":0.0,"ec1":0.1,"m1":2.8,"em1":0.7,"s1":0.5,"es1":0.2,"c2":2.25,"ec2":0.6,"m2":2.25,"em2":0.6,"s2":0.5,"es2":0.2},
{"x":11.2,"c1":0.8,"ec1":0.3,"m1":2.3,"em1":0.7,"s1":0.4,"es1":0.2,"c2":1.05,"ec2":0.4,"m2":3.3,"em2":0.8,"s2":0.5,"es2":0.2},
{"x":11.3,"c1":2.35,"ec1":0.6,"m1":2.45,"em1":0.7,"s1":0.7,"es1":0.3,"c2":5.1,"ec2":0.9,"m2":1.75,"em2":0.6,"s2":0.65,"es2":0.2},
{"x":11.4,"c1":1.4,"ec1":0.5,"m1":2.8,"em1":0.7,"s1":1.05,"es1":0.3,"c2":0.5,"ec2":0.3,"m2":2.35,"em2":0.7,"s2":0.9,"es2":0.3},
{"x":11.5,"c1":3.7,"ec1":0.8,"m1":3.45,"em1":0.8,"s1":0.65,"es1":0.2,"c2":1.8,"ec2":0.5,"m2":2.1,"em2":0.6,"s2":1.9,"es2":0.4},
{"x":11.6,"c1":1.45,"ec1":0.5,"m1":2.6,"em1":0.7,"s1":0.4,"es1":0.2,"c2":1.3,"ec2":0.4,"m2":1.9,"em2":0.6,"s2":1.4,"es2":0.4},
{"x":11.7,"c1":2.6,"ec1":0.6,"m1":1.75,"em1":0.6,"s1":0.7,"es1":0.3,"c2":1.75,"ec2":0.5,"m2":2.85,"em2":0.7,"s2":1.6,"es2":0.4},
{"x":11.8,"c1":0.3,"ec1":0.2,"m1":1.9,"em1":0.6,"s1":1.0,"es1":0.3,"c2":1.25,"ec2":0.4,"m2":1.05,"em2":0.4,"s2":1.25,"es2":0.3},
{"x":11.9,"c1":0.55,"ec1":0.3,"m1":4.3,"em1":0.9,"s1":1.25,"es1":0.3,"c2":0.45,"ec2":0.3,"m2":3.1,"em2":0.8,"s2":1.85,"es2":0.4},
{"x":12.0,"c1":0.9,"ec1":0.4,"m1":1.75,"em1":0.6,"s1":0.8,"es1":0.3,"c2":0.05,"ec2":0.1,"m2":2.95,"em2":0.7,"s2":1.5,"es2":0.4},
{"x":12.1,"c1":0.75,"ec1":0.3,"m1":3.0,"em1":0.8,"s1":1.6,"es1":0.4,"c2":0.05,"ec2":0.1,"m2":2.3,"em2":0.7,"s2":1.25,"es2":0.3},
{"x":12.2,"c1":0.2,"ec1":0.2,"m1":2.45,"em1":0.7,"s1":1.0,"es1":0.3,"c2":0.5,"ec2":0.3,"m2":2.45,"em2":0.7,"s2":1.4,"es2":0.4},
{"x":12.3,"c1":1.0,"ec1":0.4,"m1":2.25,"em1":0.6,"s1":1.4,"es1":0.4,"c2":0.1,"ec2":0.1,"m2":2.0,"em2":0.6,"s2":1.15,"es2":0.3},
{"x":12.4,"c1":0.65,"ec1":0.3,"m1":2.35,"em1":0.7,"s1":1.15,"es1":0.3,"c2":0.35,"ec2":0.2,"m2":1.65,"em2":0.5,"s2":0.8,"es2":0.3},
{"x":12.5,"c1":0.2,"ec1":0.2,"m1":2.95,"em1":0.7,"s1":1.0,"es1":0.3,"c2":0.05,"ec2":0.1,"m2":2.0,"em2":0.6,"s2":0.75,"es2":0.3},
{"x":12.6,"c1":0.5,"ec1":0.3,"m1":2.25,"em1":0.6,"s1":1.65,"es1":0.4,"c2":1.1,"ec2":0.4,"m2":2.5,"em2":0.7,"s2":1.85,"es2":0.4},
{"x":12.7,"c1":3.2,"ec1":0.7,"m1":2.8,"em1":0.7,"s1":1.0,"es1":0.3,"c2":0.05,"ec2":0.1,"m2":3.1,"em2":0.8,"s2":1.0,"es2":0.3},
{"x":12.8,"c1":1.55,"ec1":0.5,"m1":3.2,"em1":0.8,"s1":0.7,"es1":0.3,"c2":0.2,"ec2":0.2,"m2":4.1,"em2":0.9,"s2":0.75,"es2":0.3},
{"x":12.9,"c1":0.55,"ec1":0.3,"m1":3.3,"em1":0.8,"s1":1.25,"es1":0.3,"c2":0.4,"ec2":0.2,"m2":1.4,"em2":0.5,"s2":1.5,"es2":0.4},
{"x":13.0,"c1":0.1,"ec1":0.1,"m1":3.1,"em1":0.8,"s1":1.3,"es1":0.3,"c2":0.8,"ec2":0.3,"m2":1.3,"em2":0.5,"s2":1.15,"es2":0.3},
{"x":13.1,"c1":0.2,"ec1":0.2,"m1":4.2,"em1":0.9,"s1":1.05,"es1":0.3,"c2":0.45,"ec2":0.3,"m2":3.65,"em2":0.8,"s2":1.05,"es2":0.3},
{"x":13.2,"c1":0.2,"ec1":0.2,"m1":2.25,"em1":0.6,"s1":1.9,"es1":0.4,"c2":0.4,"ec2":0.2,"m2":2.0,"em2":0.6,"s2":0.8,"es2":0.3},
{"x":13.3,"c1":0.45,"ec1":0.3,"m1":1.65,"em1":0.5,"s1":2.5,"es1":0.5,"c2":0.45,"ec2":0.3,"m2":1.05,"em2":0.4,"s2":1.0,"es2":0.3},
{"x":13.4,"c1":0.1,"ec1":0.1,"m1":2.95,"em1":0.7,"s1":1.05,"es1":0.3,"c2":0.3,"ec2":0.2,"m2":1.5,"em2":0.5,"s2":0.75,"es2":0.3},
{"x":13.5,"c1":0.9,"ec1":0.4,"m1":2.8,"em1":0.7,"s1":1.6,"es1":0.4,"c2":0.1,"ec2":0.1,"m2":1.9,"em2":0.6,"s2":0.55,"es2":0.2},
{"x":13.6,"c1":0.1,"ec1":0.1,"m1":2.95,"em1":0.7,"s1":1.3,"es1":0.3,"c2":0.1,"ec2":0.1,"m2":2.1,"em2":0.6,"s2":1.0,"es2":0.3},
{"x":13.7,"c1":2.55,"ec1":0.6,"m1":2.8,"em1":0.7,"s1":1.0,"es1":0.3,"c2":2.3,"ec2":0.6,"m2":1.4,"em2":0.5,"s2":1.65,"es2":0.4},
{"x":13.8,"c1":0.2,"ec1":0.2,"m1":3.1,"em1":0.8,"s1":1.4,"es1":0.4,"c2":0.15,"ec2":0.2,"m2":1.5,"em2":0.5,"s2":1.0,"es2":0.3},
{"x":13.9,"c1":1.85,"ec1":0.5,"m1":2.8,"em1":0.7,"s1":1.15,"es1":0.3,"c2":2.25,"ec2":0.6,"m2":1.85,"em2":0.6,"s2":1.4,"es2":0.4},
{"x":14.0,"c1":0.1,"ec1":0.1,"m1":2.5,"em1":0.7,"s1":1.0,"es1":0.3,"c2":1.5,"ec2":0.5,"m2":1.4,"em2":0.5,"s2":0.55,"es2":0.2},
{"x":14.1,"c1":0.55,"ec1":0.3,"m1":2.85,"em1":0.7,"s1":2.1,"es1":0.4,"c2":0.2,"ec2":0.2,"m2":3.0,"em2":0.8,"s2":0.75,"es2":0.3},
{"x":14.2,"c1":0.7,"ec1":0.3,"m1":2.6,"em1":0.7,"s1":1.0,"es1":0.3,"c2":0.1,"ec2":0.1,"m2":2.35,"em2":0.7,"s2":0.9,"es2":0.3},
{"x":14.3,"c1":0.1,"ec1":0.1,"m1":2.95,"em1":0.7,"s1":0.7,"es1":0.3,"c2":0.3,"ec2":0.2,"m2":1.5,"em2":0.5,"s2":0.8,"es2":0.3},
{"x":14.4,"c1":1.25,"ec1":0.4,"m1":3.1,"em1":0.8,"s1":1.25,"es1":0.3,"c2":0.4,"ec2":0.2,"m2":2.85,"em2":0.7,"s2":1.0,"es2":0.3},
{"x":14.5,"c1":0.8,"ec1":0.3,"m1":3.7,"em1":0.8,"s1":1.05,"es1":0.3,"c2":0.1,"ec2":0.1,"m2":3.0,"em2":0.8,"s2":0.75,"es2":0.3},
{"x":14.6,"c1":0.2,"ec1":0.2,"m1":2.8,"em1":0.7,"s1":1.0,"es1":0.3,"c2":0.65,"ec2":0.3,"m2":3.9,"em2":0.9,"s2":1.0,"es2":0.3},
{"x":14.7,"c1":0.85,"ec1":0.3,"m1":2.2,"em1":0.6,"s1":1.4,"es1":0.4,"c2":0.5,"ec2":0.3,"m2":2.85,"em2":0.7,"s2":0.9,"es2":0.3},
{"x":14.8,"c1":0.8,"ec1":0.3,"m1":2.3,"em1":0.7,"s1":1.85,"es1":0.4,"c2":0.2,"ec2":0.2,"m2":2.9,"em2":0.7,"s2":0.8,"es2":0.3}
]},
"spacing":70,
"bounds":"flush",
"resolve":{"scale":{"color":"independent"},"legend":{"color":"independent"}},
"vconcat":[
{
 "width":1020,"height":196,
 "layer":[
  {"mark":{"type":"line","color":"#a9a9a9","strokeWidth":2,"opacity":0.6,"clip":true},
   "encoding":{"x":{"field":"x","type":"quantitative","scale":{"domain":[-5,15],"nice":false,"zero":false},"axis":{"values":[-5,-2.5,0,2.5,5,7.5,10,12.5,15],"format":".1f","title":null}},
    "y":{"field":"m1","type":"quantitative","scale":{"domain":[0,10],"nice":false},"title":"Concentration (at.%)","axis":{"values":[0,5,10],"format":"d","titleX":-67,"titleY":233,"titleBaseline":"alphabetic"}}}},
  {"mark":{"type":"errorbar","ticks":true,"size":7,"thickness":1.5,"color":"#c8c8c8","opacity":0.8,"clip":true},
   "encoding":{"x":{"field":"x","type":"quantitative"},"y":{"field":"m1","type":"quantitative","title":"Concentration (at.%)"},"yError":{"field":"em1"}}},
  {"mark":{"type":"point","shape":"diamond","filled":true,"size":110,"color":"#9a9a9a","opacity":0.75,"clip":true},
   "encoding":{"x":{"field":"x","type":"quantitative"},"y":{"field":"m1","type":"quantitative","title":"Concentration (at.%)"}}},
  {"mark":{"type":"line","color":"#3c9a3c","strokeWidth":2,"opacity":0.6,"clip":true},
   "encoding":{"x":{"field":"x","type":"quantitative"},"y":{"field":"s1","type":"quantitative","title":"Concentration (at.%)"}}},
  {"mark":{"type":"errorbar","ticks":true,"size":7,"thickness":1.5,"color":"#4ca64c","opacity":0.7,"clip":true},
   "encoding":{"x":{"field":"x","type":"quantitative"},"y":{"field":"s1","type":"quantitative","title":"Concentration (at.%)"},"yError":{"field":"es1"}}},
  {"mark":{"type":"point","shape":"diamond","filled":true,"size":110,"color":"#2a8a2a","opacity":0.8,"clip":true},
   "encoding":{"x":{"field":"x","type":"quantitative"},"y":{"field":"s1","type":"quantitative","title":"Concentration (at.%)"}}},
  {"mark":{"type":"line","color":"#ff0000","strokeWidth":2,"clip":true},
   "encoding":{"x":{"field":"x","type":"quantitative"},"y":{"field":"c1","type":"quantitative","title":"Concentration (at.%)"}}},
  {"mark":{"type":"errorbar","ticks":true,"size":7,"thickness":1.5,"color":"#8b0000","clip":true},
   "encoding":{"x":{"field":"x","type":"quantitative"},"y":{"field":"c1","type":"quantitative","title":"Concentration (at.%)"},"yError":{"field":"ec1"}}},
  {"mark":{"type":"point","shape":"diamond","filled":true,"size":110,"color":"#ff0000","opacity":1,"clip":true},
   "encoding":{"x":{"field":"x","type":"quantitative"},"y":{"field":"c1","type":"quantitative","title":"Concentration (at.%)"}}},
  {"data":{"values":[{"t":"a)"}]},
   "mark":{"type":"text","align":"left","baseline":"alphabetic","fontSize":22,"fontWeight":"bold","font":"DejaVu Sans","color":"#000000","clip":false},
   "encoding":{"x":{"datum":-5.88,"type":"quantitative"},"y":{"datum":8.21,"type":"quantitative","title":"Concentration (at.%)"},"text":{"field":"t"}}}
 ]
},
{
 "width":1020,"height":196,
 "layer":[
  {"mark":{"type":"line","color":"#a9a9a9","strokeWidth":2,"strokeDash":[2,3.3],"opacity":0.6,"clip":true},
   "encoding":{"x":{"field":"x","type":"quantitative","scale":{"domain":[-5,15],"nice":false,"zero":false},"axis":{"values":[-5,-2.5,0,2.5,5,7.5,10,12.5,15],"format":".1f","title":"Distance (nm)"}},
    "y":{"field":"m2","type":"quantitative","scale":{"domain":[0,10],"nice":false},"title":null,"axis":{"values":[0,5,10],"format":"d"}}}},
  {"mark":{"type":"errorbar","ticks":true,"size":7,"thickness":1.5,"color":"#c8c8c8","opacity":0.8,"clip":true},
   "encoding":{"x":{"field":"x","type":"quantitative","title":"Distance (nm)"},"y":{"field":"m2","type":"quantitative","title":null},"yError":{"field":"em2"}}},
  {"mark":{"type":"point","shape":"diamond","filled":true,"size":110,"opacity":0.75,"clip":true},
   "encoding":{"x":{"field":"x","type":"quantitative","title":"Distance (nm)"},"y":{"field":"m2","type":"quantitative","title":null},
    "color":{"datum":"Mn","type":"nominal","scale":{"domain":["C","Mn","Si"],"range":["#ff0000","#9a9a9a","#2a8a2a"]},"legend":{"title":null}}}},
  {"mark":{"type":"line","color":"#3c9a3c","strokeWidth":2,"strokeDash":[2,3.3],"opacity":0.6,"clip":true},
   "encoding":{"x":{"field":"x","type":"quantitative","title":"Distance (nm)"},"y":{"field":"s2","type":"quantitative","title":null}}},
  {"mark":{"type":"errorbar","ticks":true,"size":7,"thickness":1.5,"color":"#4ca64c","opacity":0.7,"clip":true},
   "encoding":{"x":{"field":"x","type":"quantitative","title":"Distance (nm)"},"y":{"field":"s2","type":"quantitative","title":null},"yError":{"field":"es2"}}},
  {"mark":{"type":"point","shape":"diamond","filled":true,"size":110,"opacity":0.8,"clip":true},
   "encoding":{"x":{"field":"x","type":"quantitative","title":"Distance (nm)"},"y":{"field":"s2","type":"quantitative","title":null},
    "color":{"datum":"Si","type":"nominal"}}},
  {"mark":{"type":"line","color":"#ff0000","strokeWidth":2,"strokeDash":[2,3.3],"clip":true},
   "encoding":{"x":{"field":"x","type":"quantitative","title":"Distance (nm)"},"y":{"field":"c2","type":"quantitative","title":null}}},
  {"mark":{"type":"errorbar","ticks":true,"size":7,"thickness":1.5,"color":"#8b0000","clip":true},
   "encoding":{"x":{"field":"x","type":"quantitative","title":"Distance (nm)"},"y":{"field":"c2","type":"quantitative","title":null},"yError":{"field":"ec2"}}},
  {"mark":{"type":"point","shape":"diamond","filled":true,"size":110,"opacity":1,"clip":true},
   "encoding":{"x":{"field":"x","type":"quantitative","title":"Distance (nm)"},"y":{"field":"c2","type":"quantitative","title":null},
    "color":{"datum":"C","type":"nominal"}}},
  {"data":{"values":[{"t":"b)"}]},
   "mark":{"type":"text","align":"left","baseline":"alphabetic","fontSize":22,"fontWeight":"bold","font":"DejaVu Sans","color":"#000000","clip":false},
   "encoding":{"x":{"datum":-5.88,"type":"quantitative","title":"Distance (nm)"},"y":{"datum":7.91,"type":"quantitative","title":null},"text":{"field":"t"}}}
 ]
}
]
}
